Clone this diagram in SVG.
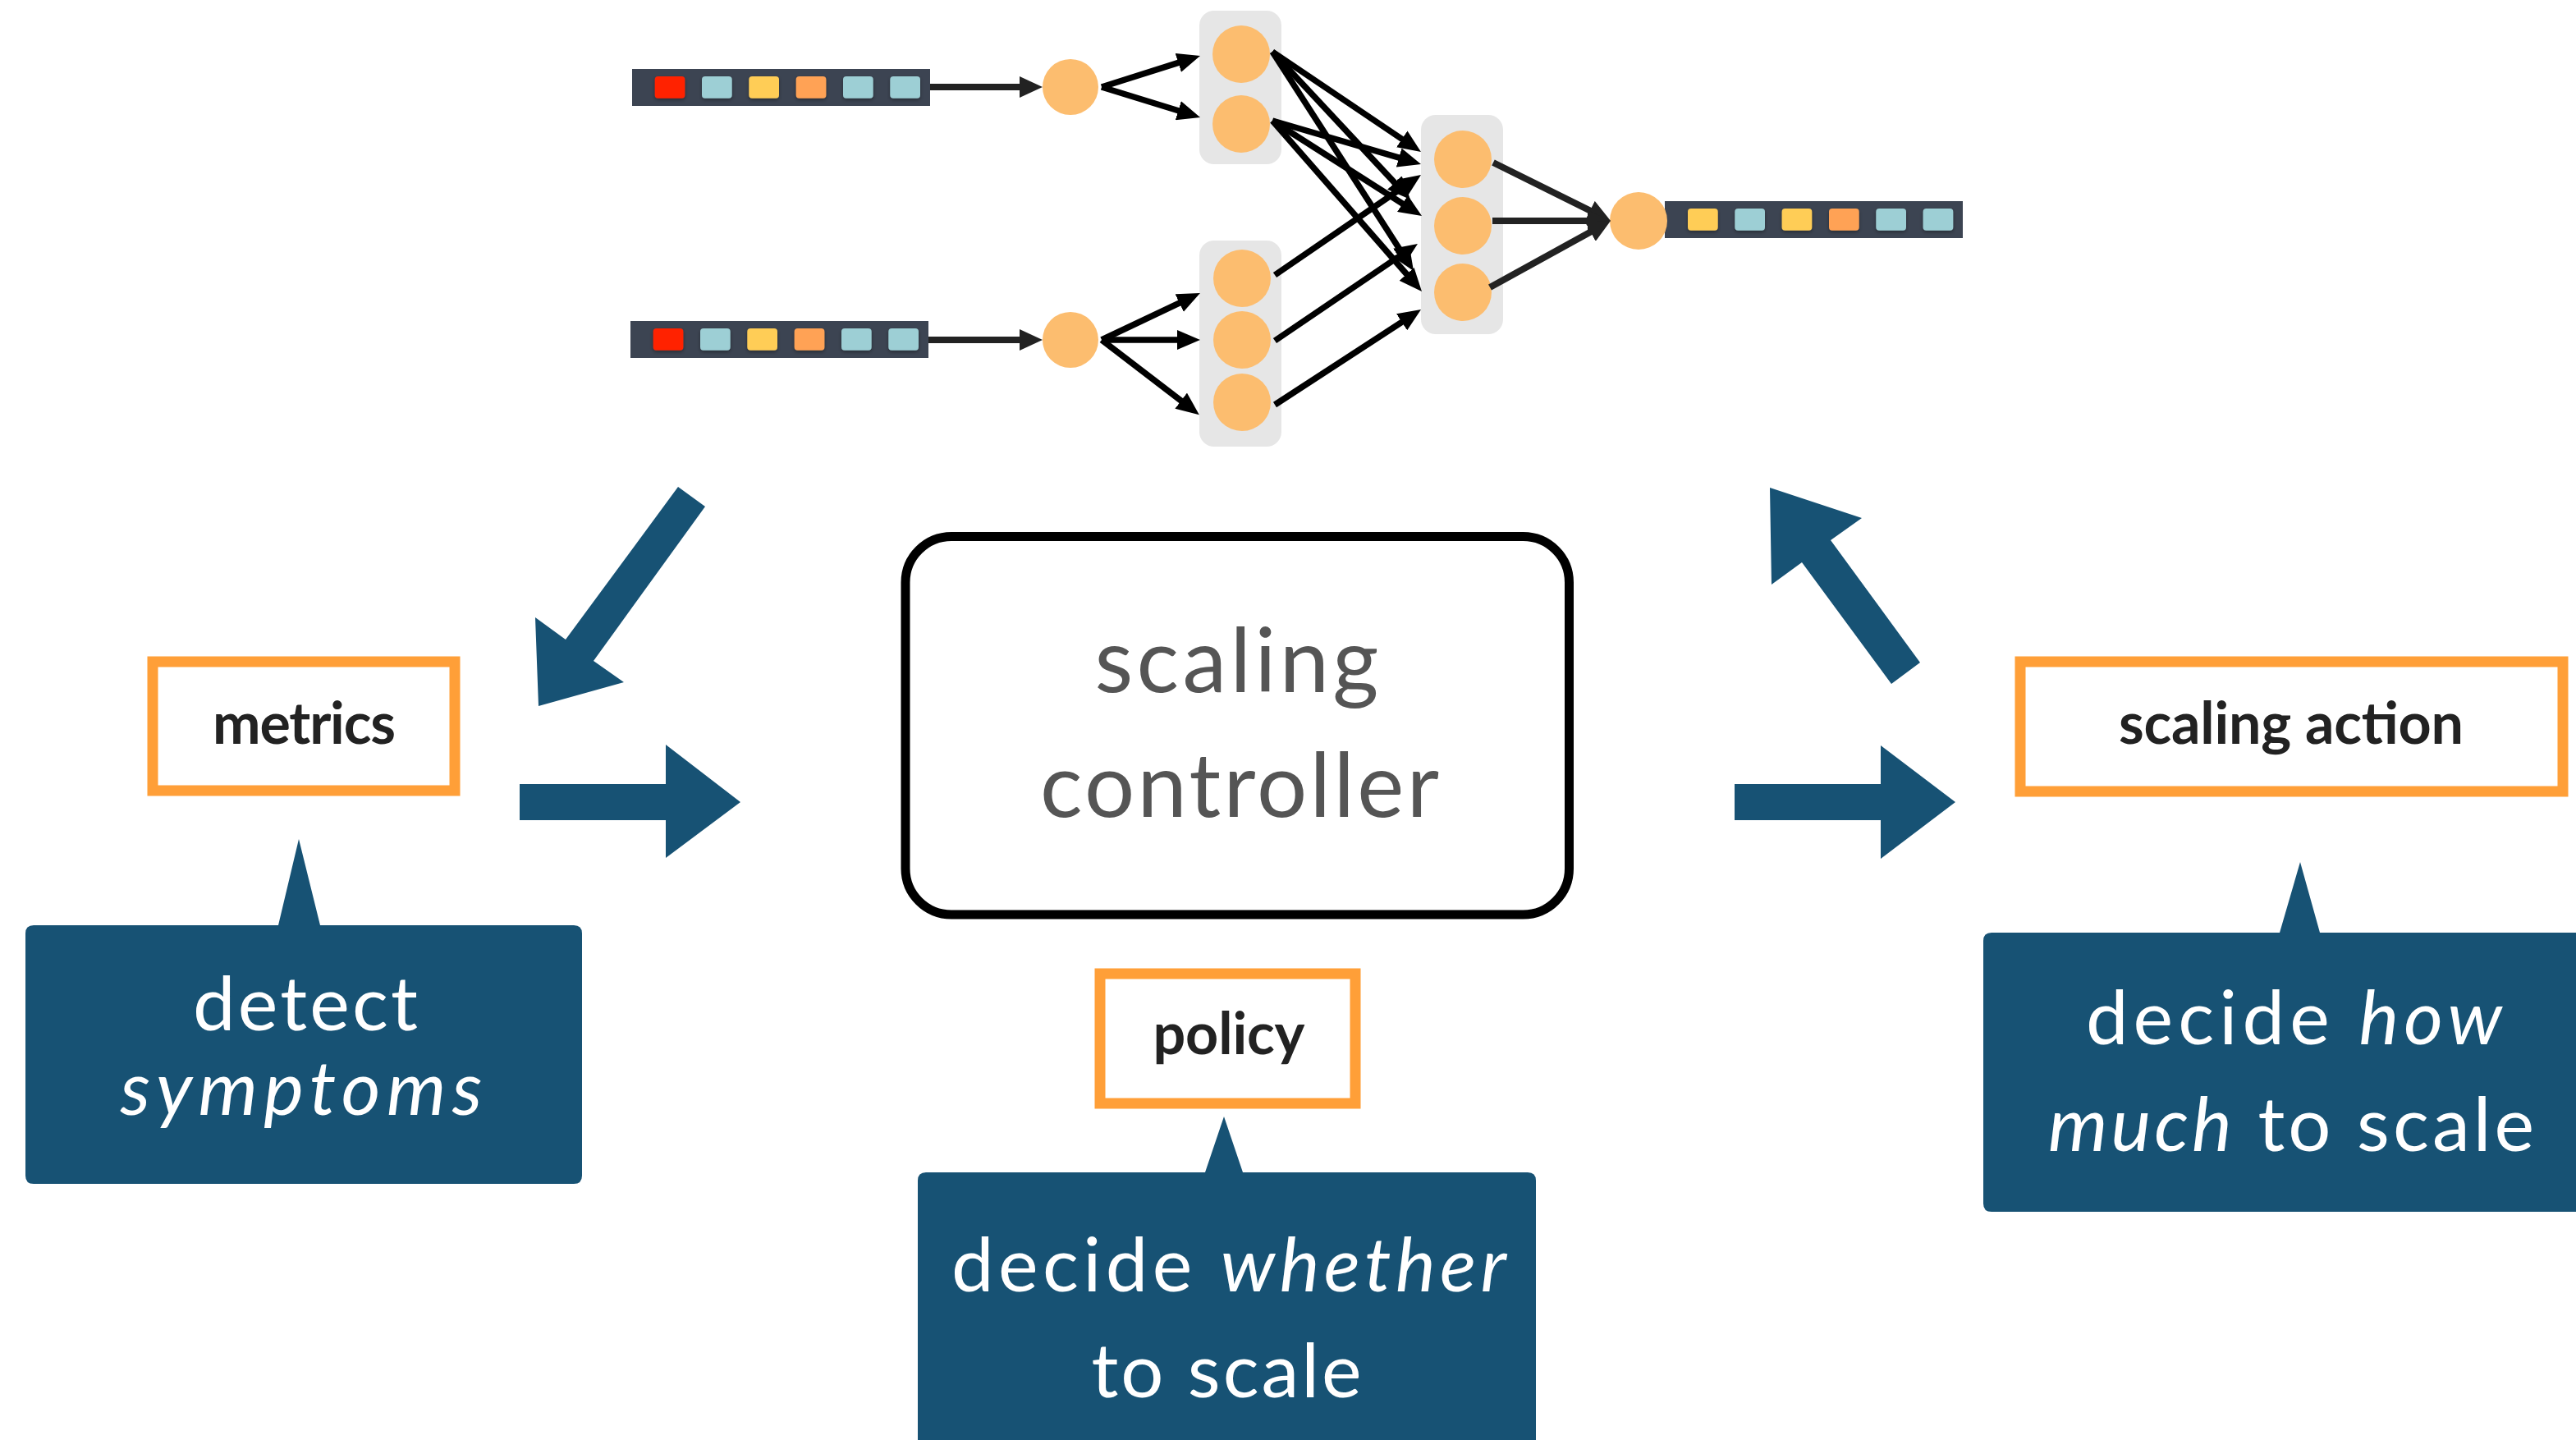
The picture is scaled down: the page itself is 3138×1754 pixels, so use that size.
<svg xmlns="http://www.w3.org/2000/svg" width="3138" height="1754" viewBox="0 0 3138 1754">
  <defs>
    <style>
      .bar{fill:#3C4452}
      .sq{filter:url(#sh)}
      .red{fill:#FF2400}
      .blu{fill:#9DCFD5}
      .yel{fill:#FFCD57}
      .org{fill:#FFA255}
      .node{fill:#FCBD6F}
      .grp{fill:#E6E6E6}
      .e{stroke:#000;stroke-width:7.5;fill:none;marker-end:url(#ah)}
      .e2{stroke:#222;stroke-width:8;fill:none;marker-end:url(#ah2)}
      .big{fill:#175274}
      .lbl{fill:#fff;stroke:#FF9F38;stroke-width:13}
      .lt{font-family:Lato,'Liberation Sans',sans-serif;font-weight:700;font-size:70px;fill:#222;text-anchor:middle}
      .ct{font-family:Lato,'Liberation Sans',sans-serif;font-size:108px;fill:#555;text-anchor:middle}
      .ctl{fill:#fff;stroke:#000;stroke-width:11}
      .call{fill:#175274}
      .cx{font-family:Lato,'Liberation Sans',sans-serif;font-size:92px;fill:#fff;text-anchor:middle}
      .it{font-style:italic}
    </style>
    <filter id="sh" x="-20%" y="-20%" width="140%" height="160%">
      <feDropShadow dx="0" dy="2" stdDeviation="2" flood-color="#000" flood-opacity="0.35"/>
    </filter>
    <marker id="ah" markerUnits="userSpaceOnUse" markerWidth="28" markerHeight="24" refX="11" refY="12" orient="auto">
      <path d="M0,0 L28,12 L0,24 Z" fill="#000"/>
    </marker>
    <marker id="ah2" markerUnits="userSpaceOnUse" markerWidth="28" markerHeight="26" refX="11" refY="13" orient="auto">
      <path d="M0,0 L28,13 L0,26 Z" fill="#222"/>
    </marker>
  </defs>

  <rect width="3138" height="1754" fill="#fff"/>

  <!-- input queue 1 -->
  <g id="queue-in-1">
    <rect class="bar" x="770" y="84" width="363" height="45"/>
    <rect class="sq red" x="797.7" y="93" width="36.7" height="26.7" rx="4"/>
    <rect class="sq blu" x="855" y="93" width="36.7" height="26.7" rx="4"/>
    <rect class="sq yel" x="912.3" y="93" width="36.7" height="26.7" rx="4"/>
    <rect class="sq org" x="969.7" y="93" width="36.7" height="26.7" rx="4"/>
    <rect class="sq blu" x="1027" y="93" width="36.7" height="26.7" rx="4"/>
    <rect class="sq blu" x="1084.3" y="93" width="36.7" height="26.7" rx="4"/>
  </g>

  <!-- input queue 2 -->
  <g id="queue-in-2">
    <rect class="bar" x="768" y="391" width="363" height="45"/>
    <rect class="sq red" x="795.7" y="400" width="36.7" height="26.7" rx="4"/>
    <rect class="sq blu" x="853" y="400" width="36.7" height="26.7" rx="4"/>
    <rect class="sq yel" x="910.3" y="400" width="36.7" height="26.7" rx="4"/>
    <rect class="sq org" x="967.7" y="400" width="36.7" height="26.7" rx="4"/>
    <rect class="sq blu" x="1025" y="400" width="36.7" height="26.7" rx="4"/>
    <rect class="sq blu" x="1082.3" y="400" width="36.7" height="26.7" rx="4"/>
  </g>

  <!-- output queue -->
  <g id="queue-out">
    <rect class="bar" x="2028" y="245" width="363" height="45"/>
    <rect class="sq yel" x="2056" y="254" width="36.7" height="26.7" rx="4"/>
    <rect class="sq blu" x="2113.3" y="254" width="36.7" height="26.7" rx="4"/>
    <rect class="sq yel" x="2170.6" y="254" width="36.7" height="26.7" rx="4"/>
    <rect class="sq org" x="2228" y="254" width="36.7" height="26.7" rx="4"/>
    <rect class="sq blu" x="2285.3" y="254" width="36.7" height="26.7" rx="4"/>
    <rect class="sq blu" x="2342.6" y="254" width="36.7" height="26.7" rx="4"/>
  </g>

  <!-- layer backgrounds -->
  <g id="layer-a-top"><rect class="grp" x="1461" y="13" width="100" height="187" rx="18"/></g>
  <g id="layer-a-bottom"><rect class="grp" x="1461" y="293" width="100" height="251" rx="18"/></g>
  <g id="layer-b"><rect class="grp" x="1731" y="140" width="100" height="267" rx="18"/></g>

  <!-- neurons -->
  <g id="in-1"><circle class="node" cx="1304" cy="106" r="34"/></g>
  <g id="in-2"><circle class="node" cx="1304" cy="414" r="34"/></g>
  <g id="a1"><circle class="node" cx="1512" cy="66" r="35"/></g>
  <g id="a2"><circle class="node" cx="1512" cy="151" r="35"/></g>
  <g id="a3"><circle class="node" cx="1513" cy="339" r="35"/></g>
  <g id="a4"><circle class="node" cx="1513" cy="414" r="35"/></g>
  <g id="a5"><circle class="node" cx="1513" cy="490" r="35"/></g>
  <g id="b1"><circle class="node" cx="1782" cy="194" r="35"/></g>
  <g id="b2"><circle class="node" cx="1782" cy="275" r="35"/></g>
  <g id="b3"><circle class="node" cx="1782" cy="356" r="35"/></g>
  <g id="out"><circle class="node" cx="1996" cy="269" r="35"/></g>

  <!-- network connectors -->
  <g id="connectors">
    <line class="e2" x1="1133" y1="106" x2="1253" y2="106"/>
    <line class="e2" x1="1131" y1="414" x2="1253" y2="414"/>

    <line class="e" x1="1342" y1="106" x2="1445.8" y2="73.1"/>
    <line class="e" x1="1342" y1="106" x2="1445.8" y2="138"/>

    <line class="e" x1="1342" y1="414" x2="1446.6" y2="364.3"/>
    <line class="e" x1="1342" y1="414" x2="1445" y2="414"/>
    <line class="e" x1="1342" y1="414" x2="1447.4" y2="494.8"/>

    <line class="e" x1="1550" y1="63" x2="1716.9" y2="175.5"/>
    <line class="e" x1="1550" y1="63" x2="1706.4" y2="230.6"/>
    <line class="e" x1="1550" y1="63" x2="1712.8" y2="315.7"/>
    <line class="e" x1="1550" y1="147" x2="1714.7" y2="195.2"/>
    <line class="e" x1="1550" y1="147" x2="1717.7" y2="253.9"/>
    <line class="e" x1="1550" y1="147" x2="1720.8" y2="342.2"/>
    <line class="e" x1="1553" y1="335" x2="1717" y2="222.6"/>
    <line class="e" x1="1553" y1="415" x2="1712.9" y2="306.5"/>
    <line class="e" x1="1553" y1="493" x2="1716.8" y2="386.3"/>

    <line class="e2" x1="1819" y1="198" x2="1946.8" y2="261.4"/>
    <line class="e2" x1="1818" y1="269" x2="1945" y2="269"/>
    <line class="e2" x1="1815" y1="350" x2="1947.1" y2="277.2"/>

    <!-- loop arrows -->
    <polygon class="big" points="859,617 826,593 689,779 652,752 656,860 760,831 723,805"/>
    <polygon class="big" points="633,955 811,955 811,907 902,977 811,1045 811,999 633,999"/>
    <polygon class="big" points="2113,955 2291,955 2291,908 2382,977 2291,1046 2291,999 2113,999"/>
    <polygon class="big" points="2156,594 2268,631 2230,658 2339,807 2304,833 2195,685 2158,712"/>
  </g>

  <!-- metrics -->
  <g id="metrics">
    <rect class="lbl" x="186" y="806" width="368" height="157"/>
    <text class="lt" x="370.5" y="906" textLength="223">metrics</text>
  </g>

  <!-- controller -->
  <g id="controller">
    <rect class="ctl" x="1103" y="653.5" width="808.5" height="460.5" rx="56"/>
    <text class="ct" x="1506.5" y="843" textLength="346">scaling</text>
    <text class="ct" x="1510" y="995" textLength="486">controller</text>
  </g>

  <!-- policy -->
  <g id="policy">
    <rect class="lbl" x="1340" y="1186" width="311" height="158"/>
    <text class="lt" x="1497" y="1284" textLength="185">policy</text>
  </g>

  <!-- scaling action -->
  <g id="scaling-action">
    <rect class="lbl" x="2461" y="806" width="661" height="158"/>
    <text class="lt" x="2791" y="906" textLength="420">scaling action</text>
  </g>

  <!-- callouts -->
  <g id="note-detect">
    <path class="call" d="M41,1127 H339 L364,1022 L390,1127 H699 Q709,1127 709,1137 V1432 Q709,1442 699,1442 H41 Q31,1442 31,1432 V1137 Q31,1127 41,1127 Z"/>
    <text class="cx" x="372" y="1255" textLength="274">detect</text>
    <text class="cx it" x="367" y="1358" textLength="441">symptoms</text>
  </g>

  <g id="note-whether">
    <path class="call" d="M1128,1428 H1468 L1491,1360 L1514,1428 H1861 Q1871,1428 1871,1438 V1770 H1118 V1438 Q1118,1428 1128,1428 Z"/>
    <text class="cx" x="1497" y="1573" textLength="676">decide <tspan class="it">whether</tspan></text>
    <text class="cx" x="1494" y="1702" textLength="329">to scale</text>
  </g>

  <g id="note-how-much">
    <path class="call" d="M2426,1136 H2777 L2802,1050 L2826,1136 H3150 V1476 H2426 Q2416,1476 2416,1466 V1146 Q2416,1136 2426,1136 Z"/>
    <text class="cx" x="2794.5" y="1272" textLength="507">decide <tspan class="it">how</tspan></text>
    <text class="cx" x="2791" y="1402" textLength="592"><tspan class="it">much</tspan> to scale</text>
  </g>
</svg>
